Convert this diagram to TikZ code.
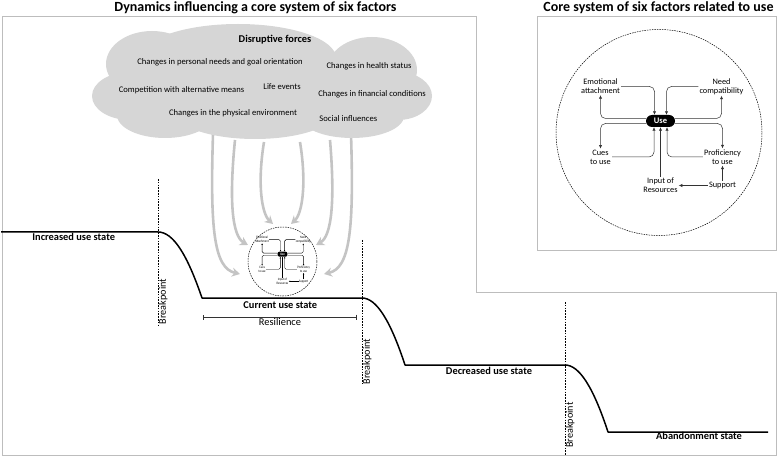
\documentclass[tikz,border=0pt]{standalone}
\usepackage{fontspec}
\setmainfont{Carlito}
\usetikzlibrary{arrows.meta}
\definecolor{cloudgray}{gray}{0.84}
\definecolor{arrowgray}{gray}{0.77}
\definecolor{framegray}{gray}{0.74}
\tikzset{
  frameline/.style={draw=framegray, line width=0.9pt},
  titletext/.style={font=\fontsize{14}{16}\selectfont\bfseries, anchor=base, inner sep=0pt},
  cloudtext/.style={font=\fontsize{8.6}{10}\selectfont, anchor=base, inner sep=0pt},
  cloudhead/.style={font=\fontsize{10.4}{12}\selectfont\bfseries, anchor=base, inner sep=0pt},
  statetext/.style={font=\fontsize{10.4}{12}\selectfont\bfseries, anchor=base, inner sep=0pt},
  plaintext/.style={font=\fontsize{10.4}{12}\selectfont, anchor=base, inner sep=0pt},
  bptext/.style={font=\fontsize{10.2}{12}\selectfont, rotate=90, anchor=north west, inner sep=0.6pt},
  stateline/.style={draw=black, line width=1.5pt, line join=round},
  bpline/.style={draw=black, line width=0.5pt, dash pattern=on 1.6pt off 1.2pt},
  forcearrow/.style={draw=arrowgray, line width=2.6pt, -{Stealth[length=8pt,width=9pt]}},
  resbar/.style={draw=black!80, line width=0.7pt, {Bar[width=5pt]}-{Bar[width=5pt]}},
  factor/.style={font=\fontsize{8.3}{9}\selectfont, align=center, inner sep=1pt},
  usepill/.style={fill=black, text=white, font=\fontsize{8.5}{9}\selectfont\bfseries, minimum width=29pt, minimum height=12pt, rounded corners=6pt, inner sep=0pt},
  coreline/.style={draw=black!80, line width=0.5pt, rounded corners=5pt, -{Latex[length=3.5pt,width=3.2pt]}},
  corecircle/.style={draw=black, line width=0.5pt, dash pattern=on 1.5pt off 1pt},
}
\newcommand{\coresystem}[1]{%
  \node[usepill] (#1use) at (1.5,-11.5) {Use};
  \node[factor] (#1emo) at (-58.5,-46) {Emotional\\attachment};
  \node[factor] (#1need) at (62.5,-46) {Need\\compatibility};
  \node[factor] (#1cues) at (-58.5,24.5) {Cues\\to use};
  \node[factor] (#1prof) at (63.5,24.5) {Proficiency\\to use};
  \node[factor] (#1inp) at (1.5,53) {Input of\\Resources};
  \node[factor] (#1sup) at (63.5,53) {Support};
  \draw[coreline] ([yshift=2.5pt]#1use.west) -| (#1emo.south);
  \draw[coreline] (#1emo.east) -| ([xshift=-6pt]#1use.north);
  \draw[coreline] (#1need.west) -| ([xshift=6pt]#1use.north);
  \draw[coreline] ([yshift=2.5pt]#1use.east) -| (#1need.south);
  \draw[coreline] ([yshift=-2.5pt]#1use.west) -| (#1cues.north);
  \draw[coreline] (#1cues.east) -| ([xshift=-6.5pt]#1use.south);
  \draw[coreline] ([yshift=-2.5pt]#1use.east) -| (#1prof.north);
  \draw[coreline] (#1prof.west) -| ([xshift=6.5pt]#1use.south);
  \draw[coreline] (#1inp.north) -- (#1inp.north |- #1use.south);
  \draw[coreline] (#1sup.west) -- (#1inp.east);
  \draw[coreline] (#1sup.north) -- (#1sup.north |- #1prof.south);
}
\begin{document}
\begin{tikzpicture}[x=1pt,y=-1pt]
\useasboundingbox (0,0) rectangle (779,457);
% frames
\draw[frameline] (2,16) -- (476,16) -- (476,292) -- (776,292) -- (776,455) -- (2,455) -- cycle;
\draw[frameline] (537,16) rectangle (776,250);
% titles
\node[titletext] (ttl1) at (255.5,11.7) {Dynamics influencing a core system of six factors};
\node[titletext] (ttl2) at (658.5,11.5) {Core system of six factors related to use};
% disruptive force arrows
\coordinate (a1s) at (213,134); \coordinate (a1e) at (240,274);
\coordinate (a2s) at (235,140); \coordinate (a2e) at (248,245);
\coordinate (a3s) at (264,142); \coordinate (a3e) at (273,224);
\coordinate (a4s) at (300,142); \coordinate (a4e) at (291,224);
\coordinate (a5s) at (330,140); \coordinate (a5e) at (316,245);
\coordinate (a6s) at (351,134); \coordinate (a6e) at (324,274);
\draw[forcearrow] (a1s) .. controls (210,230) and (214,268) .. (a1e);
\draw[forcearrow] (a2s) .. controls (229,200) and (232,236) .. (a2e);
\draw[forcearrow] (a3s) .. controls (257,185) and (262,214) .. (a3e);
\draw[forcearrow] (a4s) .. controls (307,185) and (302,214) .. (a4e);
\draw[forcearrow] (a5s) .. controls (335,200) and (332,236) .. (a5e);
\draw[forcearrow] (a6s) .. controls (354,230) and (350,268) .. (a6e);
% cloud
\fill[cloudgray] (238,58) ellipse [x radius=98pt, y radius=34pt];
\fill[cloudgray] (152,64) ellipse [x radius=46pt, y radius=33pt];
\fill[cloudgray] (130,96) ellipse [x radius=38pt, y radius=24pt];
\fill[cloudgray] (165,115) ellipse [x radius=48pt, y radius=23pt];
\fill[cloudgray] (255,112) ellipse [x radius=80pt, y radius=27pt];
\fill[cloudgray] (372,70) ellipse [x radius=45pt, y radius=33pt];
\fill[cloudgray] (398,96) ellipse [x radius=34pt, y radius=24pt];
\fill[cloudgray] (352,116) ellipse [x radius=52pt, y radius=22pt];
\fill[cloudgray] (280,90) ellipse [x radius=110pt, y radius=40pt];
% cloud texts
\node[cloudhead] (dis) at (275,42.7) {Disruptive forces};
\node[cloudtext] (f1) at (220,65) {Changes in personal needs and goal orientation};
\node[cloudtext] (f2) at (369,68.3) {Changes in health status};
\node[cloudtext] (f3) at (181.5,92.7) {Competition with alternative means};
\node[cloudtext] (f4) at (282,89.3) {Life events};
\node[cloudtext] (f5) at (372,96.7) {Changes in financial conditions};
\node[cloudtext] (f6) at (233,116) {Changes in the physical environment};
\node[cloudtext] (f7) at (348.3,121.7) {Social influences};
% state line
\coordinate (p0) at (1,232); \coordinate (p1) at (158,232);
\coordinate (p2) at (202,298); \coordinate (p3) at (362,298);
\coordinate (p4) at (405,365); \coordinate (p5) at (565,365);
\coordinate (p6) at (608,432); \coordinate (p7) at (768,432);
\draw[stateline] (p0) -- (p1) .. controls (173,232) and (187,254) .. (p2) -- (p3)
  .. controls (376.3,298) and (390.3,320.3) .. (p4) -- (p5)
  .. controls (579.3,365) and (593.3,387.3) .. (p6) -- (p7);
% breakpoints
\coordinate (b1t) at (158,179); \coordinate (b1b) at (158,325);
\coordinate (b2t) at (362,240); \coordinate (b2b) at (362,385);
\coordinate (b3t) at (565,302); \coordinate (b3b) at (565,455);
\draw[bpline] (b1t) -- (b1b);
\draw[bpline] (b2t) -- (b2b);
\draw[bpline] (b3t) -- (b3b);
\node[bptext] (bp1) at (b1b) {Breakpoint};
\node[bptext] (bp2) at (b2b) {Breakpoint};
\node[bptext] (bp3) at (565,448.5) {Breakpoint};
% resilience
\coordinate (r1) at (203,317); \coordinate (r2) at (357,317);
\draw[resbar] (r1) -- (r2);
% state labels
\node[statetext] (inc) at (73.7,240.5) {Increased use state};
\node[statetext] (cur) at (280.3,308.7) {Current use state};
\node[plaintext] (res) at (280,325.3) {Resilience};
\node[statetext] (dec) at (489,374.3) {Decreased use state};
\node[statetext] (aba) at (699,439.3) {Abandonment state};
% core system (large)
\draw[corecircle] (659,132.5) circle [radius=103pt];
\begin{scope}[shift={(659,132.5)}]
\coresystem{L}
\end{scope}
% core system (miniature)
\draw[corecircle] (282.5,261.5) circle [radius=34.5pt];
\begin{scope}[shift={(282,259)}, xscale=0.34, yscale=0.42, transform shape,
  coreline/.style={draw=black, line width=0.4pt, rounded corners=1.5pt, -{Latex[length=1.5pt,width=1.5pt]}},
  usepill/.append style={rounded corners=2pt}]
\coresystem{S}
\end{scope}
\end{tikzpicture}
\end{document}
